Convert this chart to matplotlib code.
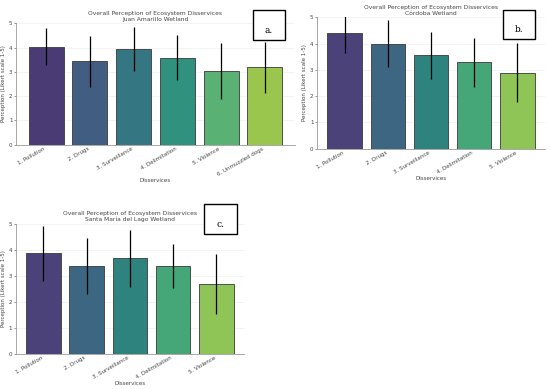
import numpy as np
import matplotlib
matplotlib.use('Agg')
import matplotlib.pyplot as plt
import seaborn as sns
from matplotlib.patches import Rectangle

W, H = 550, 389

cats_a = ['1. Pollution', '2. Drugs', '3. Surveillance', '4. Delimitation',
          '5. Violence', '6. Unmuzzled dogs']
means_a = [4.04, 3.43, 3.94, 3.59, 3.02, 3.19]
sd_a = [0.77, 1.06, 0.90, 0.92, 1.15, 1.05]

cats_b = ['1. Pollution', '2. Drugs', '3. Surveillance', '4. Delimitation', '5. Violence']
means_b = [4.39, 4.00, 3.55, 3.29, 2.89]
sd_b = [0.74, 0.90, 0.89, 0.93, 1.12]

cats_c = ['1. Pollution', '2. Drugs', '3. Surveillance', '4. Delimitation', '5. Violence']
means_c = [3.86, 3.39, 3.67, 3.39, 2.70]
sd_c = [1.06, 1.07, 1.09, 0.85, 1.15]

fs = 4.0
fig = plt.figure(figsize=(W / 100, H / 100), dpi=100)


def px_axes(x0, y0, x1, y1):
    # pixel box (top-left origin) -> figure axes
    return fig.add_axes([x0 / W, 1 - y1 / H, (x1 - x0) / W, (y1 - y0) / H])


def panel(ax, cats, means, sds, wetland):
    colors = [sns.desaturate(c, 0.75) for c in sns.color_palette('viridis', len(cats))]
    x = np.arange(len(cats))
    ax.bar(x, means, width=0.8, color=colors, edgecolor='#3a3a3a', linewidth=0.6)
    ax.errorbar(x, means, yerr=sds, fmt='none', ecolor='black', elinewidth=0.9, capsize=0)
    ax.set_ylim(0, 5)
    ax.set_xticks(x)
    ax.set_xticklabels(cats, rotation=30, ha='right', fontsize=fs, color='#444444')
    ax.tick_params(axis='y', labelsize=fs, colors='#444444', length=1.5, width=0.4, pad=1)
    ax.tick_params(axis='x', length=0, pad=1)
    ax.set_yticks(range(6))
    ax.yaxis.grid(True, color='#eeeeee', linewidth=0.5)
    ax.set_axisbelow(True)
    for s in ['top', 'right']:
        ax.spines[s].set_visible(False)
    for s in ['left', 'bottom']:
        ax.spines[s].set_color('#999999')
        ax.spines[s].set_linewidth(0.6)
    ax.set_xlabel('Disservices', fontsize=fs, color='#444444', labelpad=1)
    ax.set_ylabel('Perception (Likert scale 1-5)', fontsize=fs, color='#444444', labelpad=2)
    ax.set_title('Overall Perception of Ecosystem Disservices\n' + wetland,
                 fontsize=fs + 0.3, color='#444444', pad=2, linespacing=1.1)


def label_box(x0, y0, x1, y1, txt):
    fig.patches.append(Rectangle((x0 / W, 1 - y1 / H), (x1 - x0) / W, (y1 - y0) / H,
                                 transform=fig.transFigure, facecolor='white',
                                 edgecolor='black', linewidth=1.0, zorder=10))
    fig.text((x0 + x1) / 2 / W, 1 - (y0 + (y1 - y0) * 0.68) / H, txt,
             ha='center', va='center', fontsize=6.5, family='DejaVu Serif', zorder=11)


ax_a = px_axes(16, 23.3, 295, 144.7)
panel(ax_a, cats_a, means_a, sd_a, 'Juan Amarillo Wetland')

ax_b = px_axes(317, 17.3, 545, 148.7)
panel(ax_b, cats_b, means_b, sd_b, 'Córdoba Wetland')

ax_c = px_axes(15.7, 223.7, 244, 354)
panel(ax_c, cats_c, means_c, sd_c, 'Santa María del Lago Wetland')

label_box(253, 10, 285, 40, 'a.')
label_box(503, 10, 535, 39, 'b.')
label_box(204, 204, 237, 234, 'c.')

fig.savefig('out.png', dpi=100)
